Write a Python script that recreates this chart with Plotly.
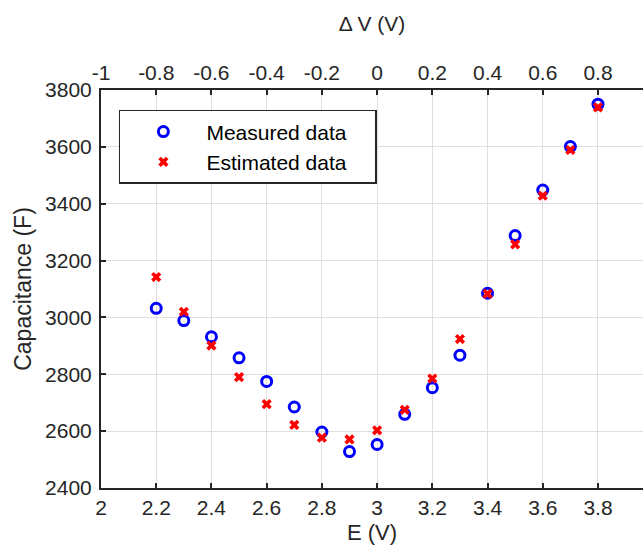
import plotly.graph_objects as go

# Tensão E (V) e capacitância
E = [2.2, 2.3, 2.4, 2.5, 2.6, 2.7, 2.8, 2.9, 3.0, 3.1, 3.2, 3.3, 3.4, 3.5, 3.6, 3.7, 3.8]
medido = [3032, 2989, 2932, 2858, 2775, 2685, 2597, 2528, 2553, 2659, 2753, 2867, 3085,
          3288, 3448, 3601, 3750]
estimado = [3142, 3020, 2901, 2790, 2695, 2622, 2577, 2571, 2603, 2675, 2785, 2924, 3083,
            3257, 3428, 3589, 3739]

# Eixo superior (Delta V)
dv_ticks = [-1, -0.8, -0.6, -0.4, -0.2, 0, 0.2, 0.4, 0.6, 0.8]
dv_labels = ["-1", "-0.8", "-0.6", "-0.4", "-0.2", "0", "0.2", "0.4", "0.6", "0.8"]
e_ticks = [2, 2.2, 2.4, 2.6, 2.8, 3, 3.2, 3.4, 3.6, 3.8]
e_labels = ["2", "2.2", "2.4", "2.6", "2.8", "3", "3.2", "3.4", "3.6", "3.8"]
c_ticks = [2400, 2600, 2800, 3000, 3200, 3400, 3600, 3800]

fonte = "Liberation Sans, Arial, sans-serif"
eixo = "#262626"
grade = "#dedede"
pad = "\u00a0" * 4  # folga à direita na legenda

fig = go.Figure()

fig.add_trace(go.Scatter(
    x=E, y=medido, mode="markers", name="Measured data" + pad,
    marker=dict(symbol="circle-open", size=10, color="#0000ff",
                line=dict(width=3, color="#0000ff"))
))
fig.add_trace(go.Scatter(
    x=E, y=estimado, mode="markers", name="Estimated data" + pad,
    marker=dict(symbol="x", size=9, color="#ff0000", line=dict(width=0))
))
# traço vazio só para o eixo de cima aparecer
fig.add_trace(go.Scatter(
    x=[dv_ticks[0], dv_ticks[-1]], y=[None, None], xaxis="x2",
    mode="markers", showlegend=False, hoverinfo="skip"
))

comum = dict(
    zeroline=False, showline=True, linecolor=eixo, linewidth=2,
    ticks="inside", ticklen=5, tickwidth=1.5, tickcolor=eixo,
    automargin=False, tickfont=dict(size=21),
)

fig.update_layout(
    width=643, height=545,
    margin=dict(l=101, r=0, t=90, b=57),
    paper_bgcolor="white", plot_bgcolor="white",
    font=dict(family=fonte, size=21, color=eixo),
    xaxis=dict(
        range=[2, 3.963], tickvals=e_ticks, ticktext=e_labels,
        showgrid=True, gridcolor=grade, gridwidth=1,
        title=dict(text="E (V)", font=dict(size=22), standoff=7),
        **comum
    ),
    xaxis2=dict(
        overlaying="x", side="top", range=[-1, 0.963],
        tickvals=dv_ticks, ticktext=dv_labels, showgrid=False,
        title=dict(text="Δ V (V)", font=dict(size=21), standoff=23),
        **comum
    ),
    yaxis=dict(
        range=[2400, 3800], tickvals=c_ticks,
        showgrid=True, gridcolor=grade, gridwidth=1,
        ticklabelstandoff=3,
        title=dict(text="Capacitance (F)", font=dict(size=23), standoff=7),
        **comum
    ),
    legend=dict(
        x=0.033, y=0.95, xanchor="left", yanchor="top",
        bgcolor="white", bordercolor=eixo, borderwidth=1.5,
        font=dict(size=21, color="black"), itemwidth=76,
        tracegroupgap=0,
    ),
    showlegend=True,
)

# tira a margem do body para a figura ocupar a janela inteira
fig.write_html("out.html",
               config={"displayModeBar": False},
               post_script="document.body.style.margin='0';"
                           "document.body.style.overflow='hidden';")
